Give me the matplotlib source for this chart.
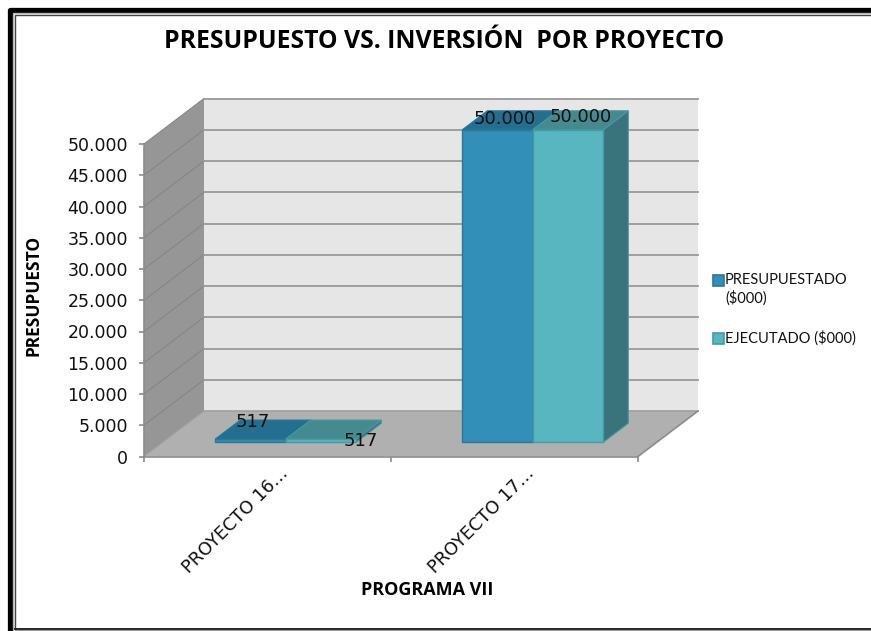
"""Presupuesto vs. inversion: Excel-style 3D clustered columns drawn on a 2D axes."""
import matplotlib
matplotlib.use("Agg")
import matplotlib.pyplot as plt
from matplotlib.patches import Polygon, Rectangle

categories = ["PROYECTO 16…", "PROYECTO 17…"]
presupuestado = [517, 50000]
ejecutado = [517, 50000]
series_names = ["PRESUPUESTADO\n($000)", "EJECUTADO ($000)"]
y_ticks = [0, 5000, 10000, 15000, 20000, 25000, 30000, 35000, 40000, 45000, 50000]
labels_a = ["517", "50.000"]
labels_b = ["517", "50.000"]

W, H = 871, 631
BLUE = ("#318fb8", "#246f8f", "#1f6280")
TEAL = ("#58b6c0", "#46898f", "#39747c")
EDGE_A = "#2a7896"
EDGE_B = "#459aa3"

fig = plt.figure(figsize=(W / 100, H / 100), dpi=100, facecolor="white")


def px_axes(x0, y_top, x1, y_bot):
    return fig.add_axes([x0 / W, 1 - y_bot / H, (x1 - x0) / W, (y_bot - y_top) / H])


# frame, in pixels: open on the right like the cropped original
bg = fig.add_axes([0, 0, 1, 1], zorder=0)
bg.set_xlim(0, W)
bg.set_ylim(H, 0)
bg.axis("off")
bg.plot([9.5, 9.5, W], [H, 9.5, 9.5], color="black", lw=3.8, solid_joinstyle="round")
bg.plot([13.2, 13.2, W], [H, 13, 13], color="#b5b5b5", lw=1.0)
bg.plot([15, 15, W], [628.5, 15, 15], color="#444444", lw=1.0)
bg.plot([15, W], [628.5, 628.5], color="#222222", lw=1.4)
bg.plot([15, W], [630.3, 630.3], color="#999999", lw=0.8)

# front plane of the 3D box
ax = px_axes(144, 144, 638, 456.5)
ax.set_zorder(1)
ax.patch.set_visible(False)
ax.set_xlim(0, len(categories))
ax.set_ylim(0, 50000)

# depth vector of the box in data units
dx = 60 / 247
dy = 45.5 / 312.5 * 50000
x_end = len(categories)
y_end = y_ticks[-1]


def pt(x, y, d=0.0):
    return (x + d * dx, y + d * dy)


def poly(points, face, edge="none", lw=0.0, z=1):
    ax.add_patch(Polygon(points, closed=True, fc=face, ec=edge, lw=lw, zorder=z, clip_on=False))


# walls and floor
poly([pt(0, 0, 1), pt(x_end, 0, 1), pt(x_end, y_end, 1), pt(0, y_end, 1)], "#e6e6e6")
poly([pt(0, 0), pt(0, 0, 1), pt(0, y_end, 1), pt(0, y_end)], "#969696")
poly([pt(0, 0), pt(x_end, 0), pt(x_end, 0, 1), pt(0, 0, 1)], "#b0b0b0")

for v in y_ticks:
    if v > 0:
        ax.plot(*zip(pt(0, v), pt(0, v, 1)), color="#868686", lw=0.8, zorder=1.5, clip_on=False)
        ax.plot(*zip(pt(0, v, 1), pt(x_end, v, 1)), color="#999999", lw=1.3, zorder=1.5, clip_on=False)
ax.plot(*zip(pt(0, 0), pt(0, 0, 1)), color="#a0a0a0", lw=0.8, zorder=1.5, clip_on=False)
ax.plot(*zip(pt(0, 0, 1), pt(x_end, 0, 1)), color="#a0a0a0", lw=1.2, zorder=1.5, clip_on=False)
ax.plot(*zip(pt(x_end, 0), pt(x_end, 0, 1)), color="#8c8c8c", lw=1.2, zorder=1.5, clip_on=False)

# columns: gap width 75%, depth 0.31 to 0.73 of the box
gap = 52.5 / 247
bar_w = 70.5 / 247
d0, d1 = 0.31, 0.73


def column(x, v, cols, edge, z):
    front, top, side = cols
    poly([pt(x, 0, d0), pt(x + bar_w, 0, d0), pt(x + bar_w, 0, d1), pt(x, 0, d1)], side, z=z)
    poly([pt(x + bar_w, 0, d0), pt(x + bar_w, 0, d1), pt(x + bar_w, v, d1), pt(x + bar_w, v, d0)],
         side, edge, 0.8, z)
    poly([pt(x, v, d0), pt(x + bar_w, v, d0), pt(x + bar_w, v, d1), pt(x, v, d1)], top, edge, 0.8, z)
    poly([pt(x, 0, d0), pt(x + bar_w, 0, d0), pt(x + bar_w, v, d0), pt(x, v, d0)], front, edge, 1.0, z)


for i in range(len(categories)):
    column(i + gap, presupuestado[i], BLUE, EDGE_A, 2 + i)
    column(i + gap + bar_w, ejecutado[i], TEAL, EDGE_B, 2.5 + i)

# data labels, placed where the original left them
label_font = dict(fontsize=13, family="DejaVu Sans", color="#111111", ha="center", va="center",
                  zorder=6)
ax.annotate(labels_a[0], (0 + gap + bar_w, presupuestado[0]), xytext=(-14, 31),
            textcoords="offset pixels", annotation_clip=False, **label_font)
ax.annotate(labels_b[0], (0 + gap + bar_w, ejecutado[0]), xytext=(94, 12),
            textcoords="offset pixels", annotation_clip=False, **label_font)
ax.annotate(labels_a[1], (1 + gap + bar_w, presupuestado[1]), xytext=(-9, 25),
            textcoords="offset pixels", annotation_clip=False, **label_font)
ax.annotate(labels_b[1], (1 + gap + bar_w, ejecutado[1]), xytext=(67, 27),
            textcoords="offset pixels", annotation_clip=False, **label_font)

# axes
for s in ("top", "right"):
    ax.spines[s].set_visible(False)
for s in ("left", "bottom"):
    ax.spines[s].set_color("#8c8c8c")
    ax.spines[s].set_linewidth(1.2)
ax.set_yticks(y_ticks)
ax.set_yticklabels([f"{v:,}".replace(",", ".") for v in y_ticks], fontsize=12.5,
                   family="DejaVu Sans", color="#111111")
ax.set_xticks(range(len(categories) + 1))
ax.set_xticklabels([""] * (len(categories) + 1))
ax.tick_params(color="#8c8c8c", width=1.2, length=3.6, direction="out")
ax.tick_params(axis="y", pad=8)
for i, c in enumerate(categories):
    ax.annotate(c, (i + 0.5, 0), xytext=(11, -8), textcoords="offset pixels", rotation=45,
                rotation_mode="anchor", ha="right", va="top", fontsize=12.8, family="DejaVu Sans",
                color="#111111", annotation_clip=False)

bold = dict(family="Open Sans", fontweight="bold", color="black", ha="center", va="center")
fig.text(444 / W, 1 - 42 / H, "PRESUPUESTO VS. INVERSIÓN  POR PROYECTO", fontsize=17.8, **bold)
fig.text(33 / W, 1 - 295 / H, "PRESUPUESTO", fontsize=12.5, rotation=90, **bold)
fig.text(427 / W, 1 - 590 / H, "PROGRAMA VII", fontsize=13, **bold)

# legend
for y, cols, edge in zip((280, 338), (BLUE, TEAL), (EDGE_A, EDGE_B)):
    bg.add_patch(Rectangle((712.5, y - 5.5), 11, 11, fc=cols[0], ec=edge, lw=1.2))
name_lines = series_names[0].split("\n")
legend_font = dict(fontsize=10.5, family="Lato", color="#111111", va="center")
fig.text(725 / W, 1 - 280 / H, name_lines[0], **legend_font)
fig.text(725 / W, 1 - 298 / H, name_lines[1], **legend_font)
fig.text(725 / W, 1 - 338 / H, series_names[1], **legend_font)

fig.savefig("out.png", dpi=100)
